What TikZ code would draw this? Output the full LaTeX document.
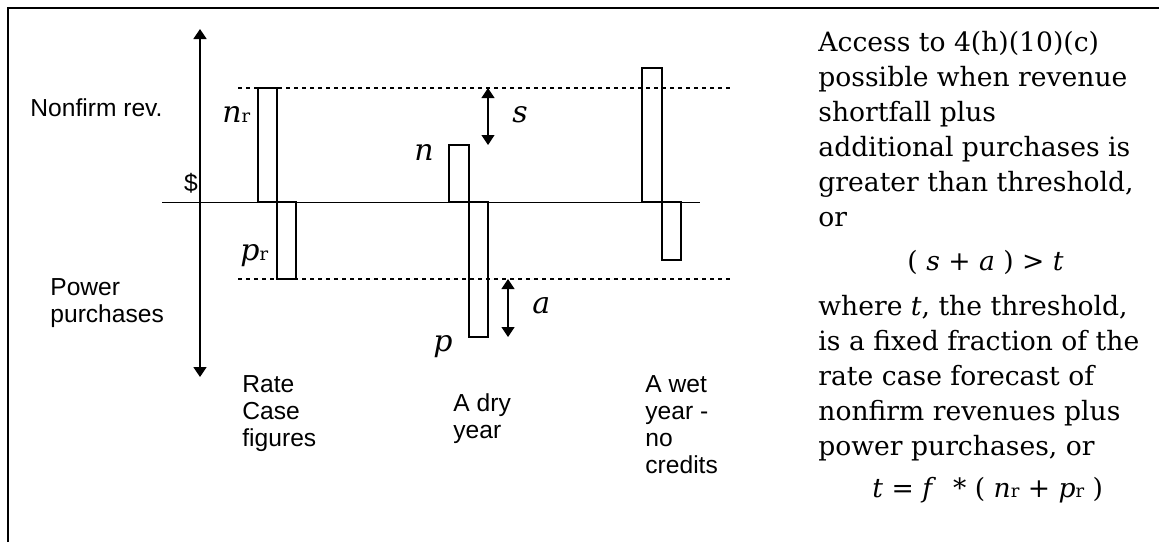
\documentclass[tikz,border=0pt]{standalone}
\usepackage{fontspec}
\setmainfont{DejaVu Serif}
\newfontfamily\arialfont{Liberation Sans}
\usetikzlibrary{arrows.meta}

\tikzset{
  sidelbl/.style={font=\arialfont\fontsize{12.3}{13.6}\selectfont, align=left, inner sep=0pt, anchor=north west},
  varlbl/.style={font=\fontsize{15}{16}\selectfont\itshape, inner sep=0pt, anchor=base west},
  notetext/.style={font=\fontsize{13.3}{17.5}\selectfont, align=left, inner sep=0pt, anchor=north west},
  colbar/.style={draw, line width=1pt},
  cutline/.style={line width=1pt, dash pattern=on 2pt off 2pt},
  gaparrow/.style={{Triangle[width=6.5pt,length=5pt]}-{Triangle[width=6.5pt,length=5pt]}, line width=0.6pt},
}
\newcommand{\rsub}{{\upshape\fontsize{9}{9}\selectfont r}}

\begin{document}
\begin{tikzpicture}[x=0.5pt, y=-0.5pt]
  \useasboundingbox (0,0) rectangle (1159,542);
  % frame, top and left side only
  \draw[line width=1pt] (8,542) -- (8,8) -- (1159,8);

  % $ axis
  \coordinate (axtop) at (200,29);
  \coordinate (axbot) at (200,377);
  \draw[gaparrow, line width=0.8pt] (axbot) -- (axtop);
  \coordinate (zeroL) at (162,202);
  \coordinate (zeroR) at (700,202);
  \draw[line width=0.5pt] (zeroL) -- (zeroR);

  % rate case levels
  \coordinate (hiL) at (238,88);
  \coordinate (hiR) at (733,88);
  \coordinate (loL) at (238,279);
  \coordinate (loR) at (733,279);
  \draw[cutline] (hiL) -- (hiR);
  \draw[cutline] (loL) -- (loR);

  % bars: rate case, dry year, wet year
  \draw[colbar] (258,88) rectangle (277,202);
  \draw[colbar] (277,202) rectangle (296,279);
  \draw[colbar] (449,145) rectangle (469,202);
  \draw[colbar] (469,202) rectangle (488,337);
  \draw[colbar] (642,68) rectangle (662,202);
  \draw[colbar] (662,202) rectangle (681,260);

  % shortfall and additional purchases
  \coordinate (stop) at (488,88);
  \coordinate (sbot) at (488,145);
  \coordinate (atop) at (508,279);
  \coordinate (abot) at (508,337);
  \draw[gaparrow] (stop) -- (sbot);
  \draw[gaparrow] (atop) -- (abot);

  % variable labels
  \node[varlbl] (nr) at (222,122) {n\rsub};
  \node[varlbl] (pr) at (240,260) {p\rsub};
  \node[varlbl, anchor=base east] (ndry) at (434,160) {n};
  \node[varlbl] (pdry) at (433,351) {p};
  \node[varlbl] (slbl) at (512,122) {s};
  \node[varlbl] (albl) at (532,313) {a};

  % axis and column labels
  \node[sidelbl, anchor=center] (dollar) at (191,183) {\$};
  \node[sidelbl] (nonfirm) at (30,98) {Nonfirm rev.};
  \node[sidelbl] (purch) at (50,278) {Power\\purchases};
  \node[sidelbl] (ratecase) at (242,375) {Rate\\Case\\figures};
  \node[sidelbl] (dryyear) at (453,393) {A dry\\year};
  \node[sidelbl] (wetyear) at (645,375) {A wet\\year -\\no\\credits};

  % explanation
  \node[notetext] (access) at (818,31) {Access to 4(h)(10)(c)\\possible when revenue\\shortfall plus\\additional purchases is\\greater than threshold,\\or};
  \node[notetext, anchor=base west] (ineq) at (907,270) {( \textit{s} + \textit{a} ) > \textit{t}};
  \node[notetext] (where) at (818,295) {where \textit{t}, the threshold,\\is a fixed fraction of the\\rate case forecast of\\nonfirm revenues plus\\power purchases, or};
  \node[notetext, anchor=base west] (tdef) at (872,497) {\textit{t} = \textit{f} \ * ( \textit{n}\rsub\ + \textit{p}\rsub\ )};
\end{tikzpicture}
\end{document}
